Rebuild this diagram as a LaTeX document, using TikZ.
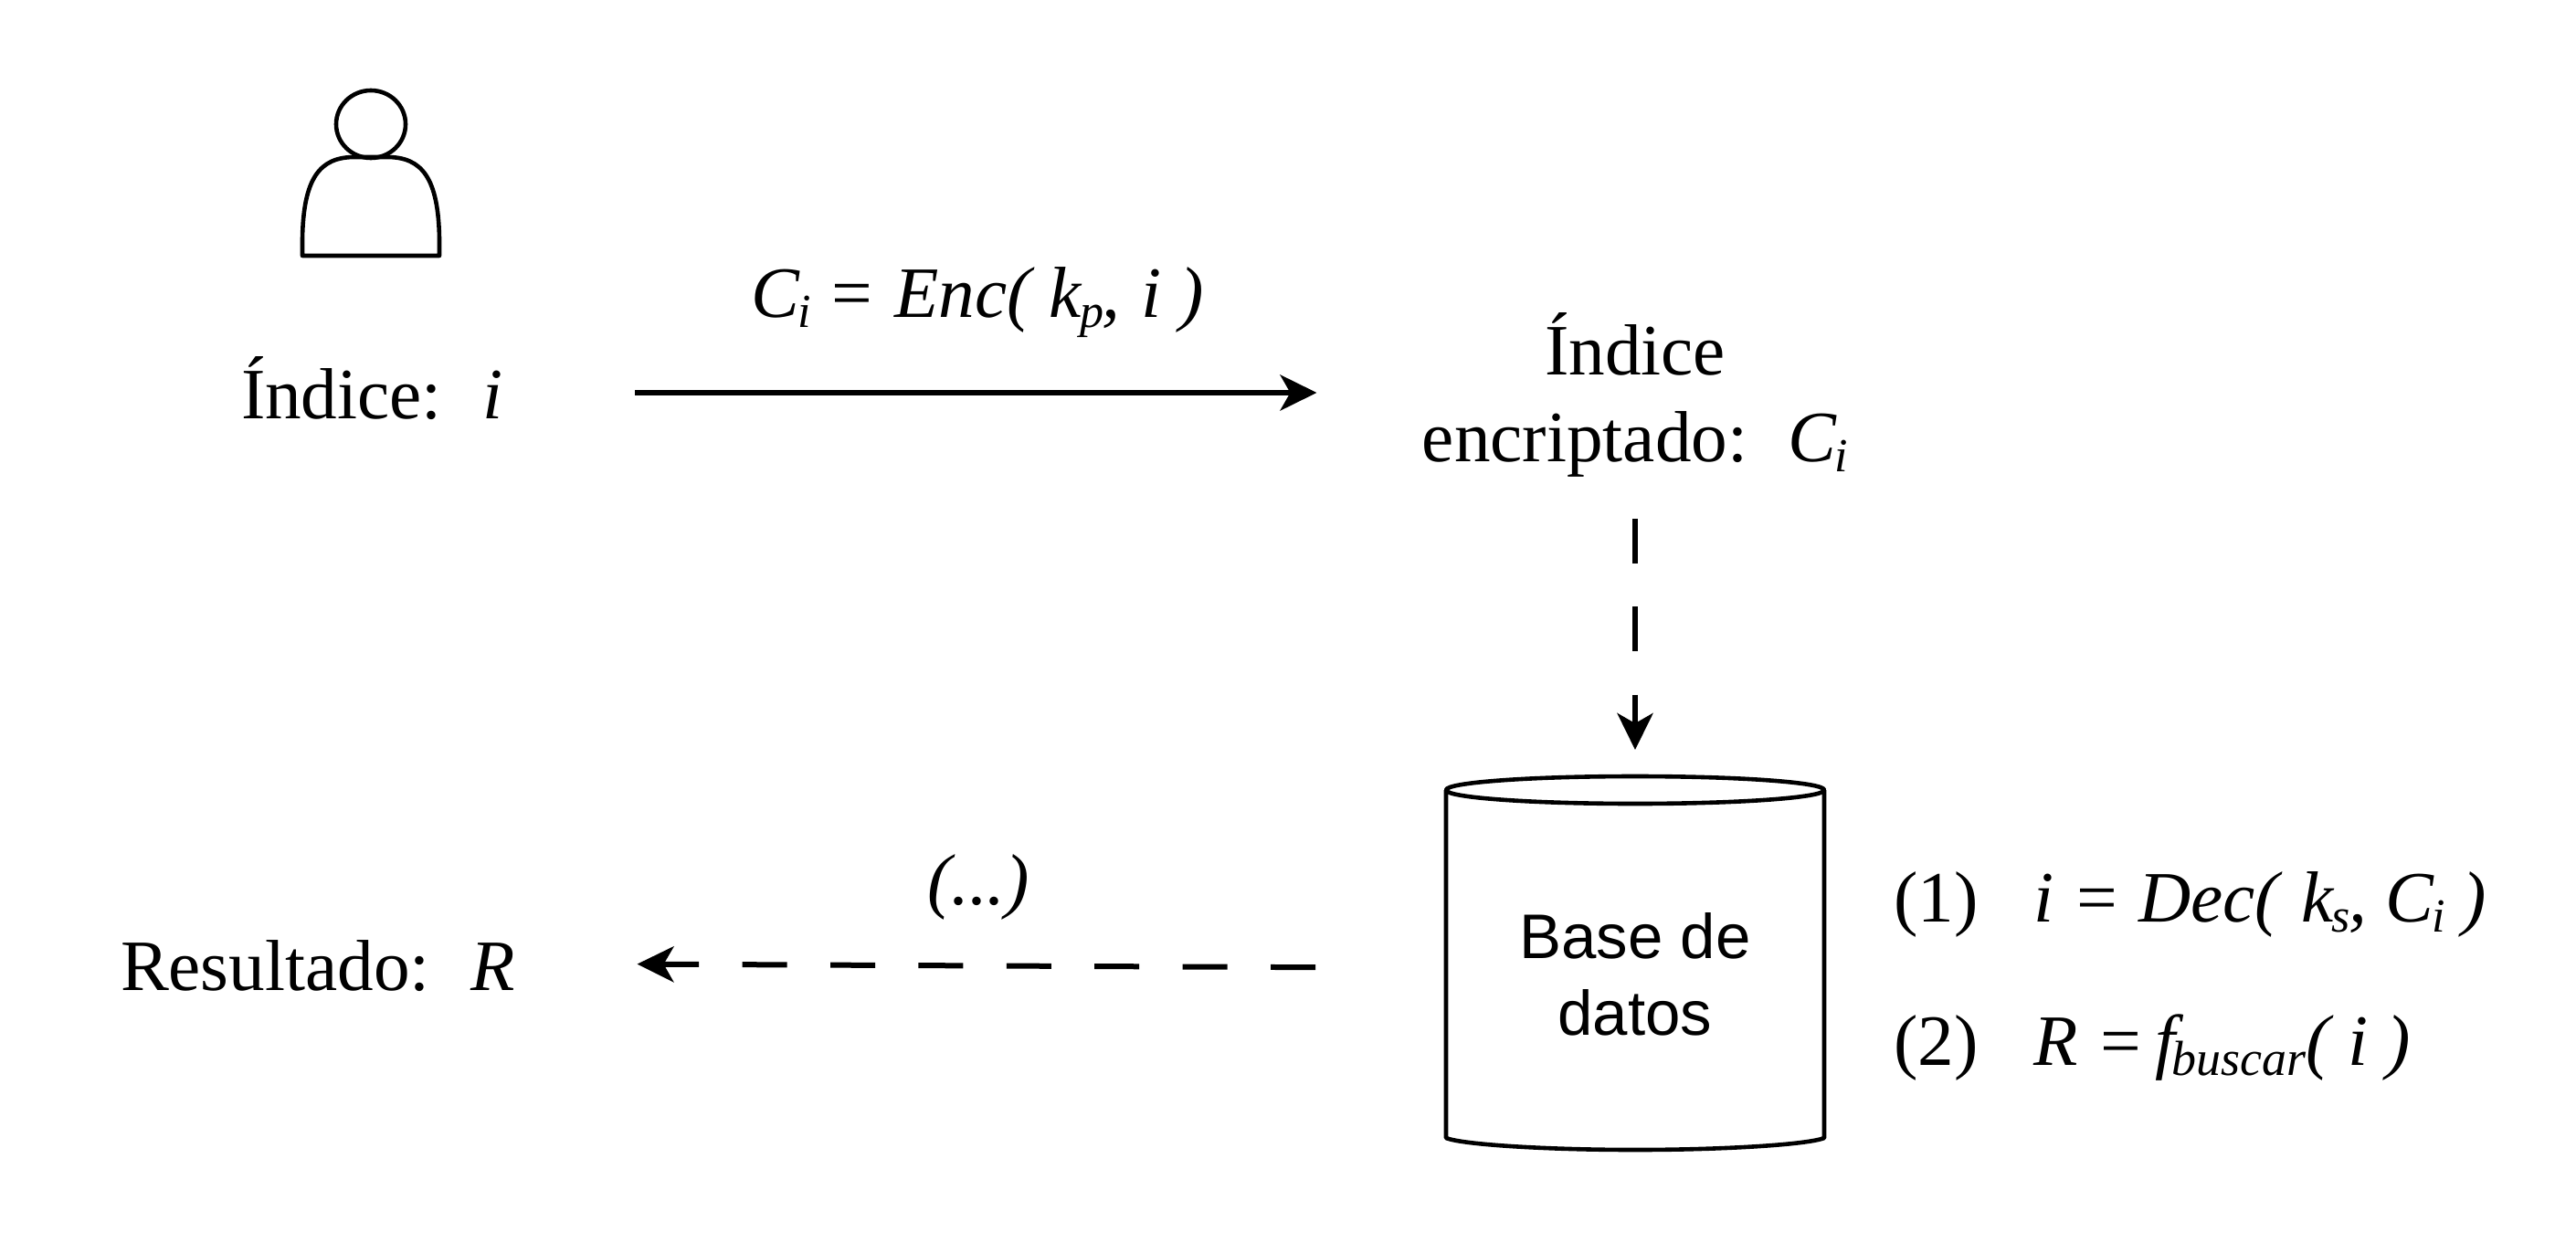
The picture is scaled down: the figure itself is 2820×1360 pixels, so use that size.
\documentclass[tikz,border=0pt]{standalone}
\usepackage{fontspec}
\setmainfont{Liberation Serif}
\setsansfont{Liberation Sans}
\usetikzlibrary{arrows.meta}
\newcommand{\sbs}[1]{\hspace{-0.03em}\raisebox{-0.14em}{\fontsize{26}{26}\selectfont\itshape #1}\hspace{-0.02em}}
\newcommand{\gapp}{\hspace{0.56em}}
\tikzset{
  txt/.style={inner sep=0pt,outer sep=0pt,font=\fontsize{39.6}{47.5}\selectfont,anchor=base west},
  dbnode/.style={inner sep=0pt,outer sep=0pt,font=\sffamily\fontsize{34.5}{42}\selectfont,align=center,
    minimum width=207pt,minimum height=192pt},
  shape line/.style={draw=black,line width=2.3pt,line join=round},
  tipp/.style={-{Stealth[length=20pt,width=19.5pt,inset=5.5pt,sep=0pt]}},
  conn/.style={draw=black,line width=3pt,tipp},
  dashconn/.style={conn,dash pattern=on 24.5pt off 23.7pt}
}
\begin{document}
\begin{tikzpicture}[x=0.5pt,y=-0.5pt]
\useasboundingbox (0,0) rectangle (2820,1360);
\fill[white] (0,0) rectangle (2820,1360);
% person
\draw[shape line] (406,136) ellipse [x radius=38,y radius=37];
\draw[shape line] (331,280) -- (331,262) .. controls (332,195) and (350,172) .. (388,172)
  -- (424,172) .. controls (462,172) and (480,195) .. (481,262) -- (481,280) -- cycle;
% cylinder
\draw[shape line] (1583,865) -- (1583,1246) .. controls (1600,1253) and (1690,1259) .. (1790,1259)
  .. controls (1890,1259) and (1980,1253) .. (1997,1246) -- (1997,865);
\draw[shape line] (1790,865) ellipse [x radius=207,y radius=15];
% texts
\node[dbnode] (db) at (1790,1067) {Base de\\datos};
\node[txt] (idx) at (264,458) {Índice:\gapp\textit{i}};
\node[txt] (lab) at (822,347) {\textit{C}\sbs{i}\textit{ = Enc( k}\sbs{p}\textit{,\hspace{0.04em} i )}};
\node[txt,align=center,anchor=center] (enc) at (1790,432) {Índice\\encriptado:\gapp\textit{C}\sbs{i}};
\node[txt] (res) at (132,1084) {Resultado:\gapp\textit{R}};
\node[txt] (dots) at (1015,990) {\textit{(...)}};
\node[txt] (s1) at (2073,1009) {(1)\hspace{0.77em}\textit{i = Dec(\hspace{0.05em} k}\sbs{s}\textit{, C}\sbs{i}\textit{ )}};
\node[txt] (s2) at (2073,1166) {(2)\hspace{0.77em}\textit{R =\hspace{-0.1em} f}\hspace{-0.17em}\raisebox{-0.14em}{\fontsize{27}{27}\selectfont\itshape buscar}\textit{( i )}};
% connectors
\draw[conn] ([xshift=72.5pt,yshift=14pt]idx.base east) coordinate (a1) -- ([xshift=-57.7pt]a1 -| enc.west);
\draw[dashconn] ([yshift=-23pt]enc.south) -- ([yshift=27pt]db.north);
\draw[dashconn] ([xshift=-71.5pt,yshift=3.9pt]db.west) -- ([xshift=67pt,yshift=14.2pt]res.base east);
\end{tikzpicture}
\end{document}
